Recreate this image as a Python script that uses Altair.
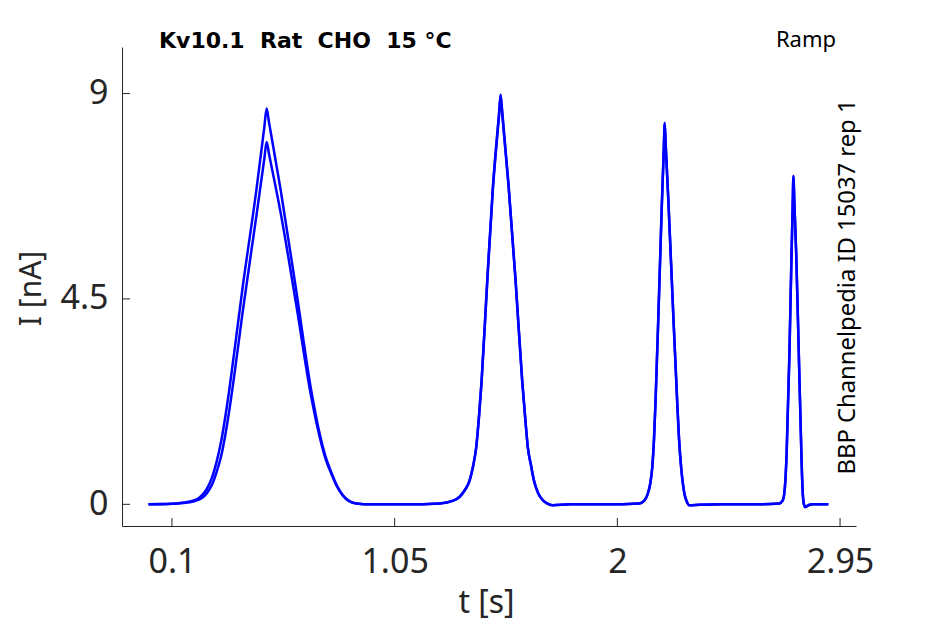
import altair as alt
import pandas as pd

# time points [s]
t_s = [0.00, 0.10, 0.15, 0.19, 0.215, 0.24, 0.26, 0.275, 0.29, 0.311,
       0.343, 0.37, 0.40, 0.46, 0.494, 0.504, 0.514, 0.564, 0.63, 0.694,
       0.73, 0.755, 0.78, 0.805, 0.829, 0.855, 0.886, 0.95,
       1.10, 1.242, 1.30, 1.327, 1.35, 1.37, 1.385, 1.398, 1.41, 1.421,
       1.445, 1.469, 1.495, 1.502, 1.509, 1.536, 1.566, 1.594, 1.607, 1.618,
       1.632, 1.644, 1.662, 1.682, 1.70, 1.723, 1.80,
       1.95, 2.094, 2.115, 2.13, 2.14, 2.149, 2.156, 2.163, 2.177, 2.19,
       2.198, 2.202, 2.206, 2.218, 2.236, 2.255, 2.263, 2.272, 2.279, 2.286,
       2.296, 2.307, 2.35, 2.45,
       2.60, 2.691, 2.705, 2.712, 2.717, 2.722, 2.734, 2.743, 2.748, 2.751,
       2.755, 2.763, 2.774, 2.785, 2.788, 2.791, 2.796, 2.802, 2.815, 2.833,
       2.90]

# current traces [nA]
i_trace1 = [0.00, 0.01, 0.04, 0.08, 0.14, 0.27, 0.45, 0.65, 0.92, 1.41,
            2.45, 3.50, 4.69, 6.88, 8.26, 8.67, 8.37, 6.88, 4.69, 2.50,
            1.55, 1.05, 0.70, 0.40, 0.20, 0.08, 0.02, 0.00,
            0.00, 0.02, 0.08, 0.17, 0.32, 0.53, 0.85, 1.26, 1.95, 2.72,
            4.91, 6.95, 8.55, 8.98, 8.60, 7.00, 4.91, 2.72, 1.90, 1.26,
            0.85, 0.53, 0.25, 0.09, 0.02, -0.02, 0.00,
            0.00, 0.02, 0.08, 0.24, 0.45, 0.82, 1.40, 2.28, 4.47, 6.62,
            7.78, 8.36, 7.92, 6.62, 4.47, 2.28, 1.45, 0.82, 0.48, 0.24,
            0.06, -0.02, -0.01, 0.00,
            0.00, 0.02, 0.08, 0.24, 0.55, 1.12, 3.31, 5.50, 6.56, 7.20,
            6.63, 5.50, 3.31, 1.12, 0.60, 0.24, 0.00, -0.06, -0.02, 0.00,
            0.00]

i_trace2 = [0.00, 0.01, 0.03, 0.06, 0.10, 0.19, 0.33, 0.48, 0.70, 1.08,
            2.00, 2.98, 4.15, 6.31, 7.57, 7.94, 7.68, 6.38, 4.38, 2.36,
            1.48, 1.00, 0.67, 0.38, 0.19, 0.07, 0.02, 0.00,
            0.00, 0.02, 0.08, 0.16, 0.31, 0.52, 0.84, 1.24, 1.92, 2.69,
            4.87, 6.90, 8.50, 8.93, 8.55, 6.96, 4.88, 2.70, 1.88, 1.25,
            0.84, 0.52, 0.24, 0.09, 0.02, -0.02, 0.00,
            0.00, 0.02, 0.08, 0.23, 0.44, 0.81, 1.38, 2.26, 4.44, 6.58,
            7.74, 8.32, 7.88, 6.59, 4.45, 2.27, 1.44, 0.81, 0.47, 0.23,
            0.06, -0.02, -0.01, 0.00,
            0.00, 0.02, 0.08, 0.23, 0.54, 1.10, 3.28, 5.46, 6.52, 7.16,
            6.59, 5.47, 3.29, 1.11, 0.59, 0.23, 0.00, -0.06, -0.02, 0.00,
            0.00]

x_ticks = [0.1, 1.05, 2, 2.95]
y_ticks = [0, 4.5, 9]

title_text = "Kv10.1\u00a0 Rat\u00a0 CHO\u00a0 15 °C"
protocol_text = "Ramp"
source_text = "BBP Channelpedia ID 15037 rep 1"

assert len(t_s) == len(i_trace1) == len(i_trace2)

rows = []
for name, vals in (("1", i_trace1), ("2", i_trace2)):
    for t, v in zip(t_s, vals):
        rows.append({"t": t, "I": v, "trace": name})
df = pd.DataFrame(rows)

W, H = 734, 479
INK = "#262626"
FONT = "Noto Sans"
LABEL_EXPR = "format(datum.value, '~g')"

xscale = alt.Scale(domain=[-0.113, 3.018], nice=False, zero=False)
yscale = alt.Scale(domain=[-0.475, 10.02], nice=False, zero=False)

xaxis = alt.Axis(values=x_ticks, labelExpr=LABEL_EXPR, title="t [s]",
                 grid=False, ticks=False, tickSize=0, domainColor=INK,
                 domainWidth=1, labelFont=FONT, labelFontSize=34,
                 labelColor=INK, labelBaseline="alphabetic", labelPadding=46,
                 labelFlush=False, labelOverlap=False,
                 titleFont=FONT, titleFontSize=32, titleColor=INK,
                 titleFontWeight="normal", titleX=364, titleY=86.5,
                 titleBaseline="alphabetic", titleAlign="center")
yaxis = alt.Axis(values=y_ticks, labelExpr=LABEL_EXPR, title="I [nA]",
                 grid=False, ticks=False, tickSize=0, domainColor=INK,
                 domainWidth=1, labelFont=FONT, labelFontSize=34,
                 labelColor=INK, labelPadding=14, labelFlush=False,
                 labelOverlap=False,
                 titleFont=FONT, titleFontSize=30, titleColor=INK,
                 titleFontWeight="normal", titleAngle=270, titleX=-82,
                 titleY=241, titleBaseline="alphabetic", titleAlign="center")

lines = alt.Chart(df).mark_line(color="#0000FF", strokeWidth=2.5,
                                interpolate="monotone").encode(
    x=alt.X("t:Q", scale=xscale, axis=xaxis),
    y=alt.Y("I:Q", scale=yscale, axis=yaxis),
    detail="trace:N",
)

ytick_marks = alt.Chart(pd.DataFrame({"v": y_ticks})).mark_rule(
    color=INK, strokeWidth=1).encode(
    y=alt.Y("v:Q", scale=yscale, axis=yaxis),
    x=alt.value(0), x2=alt.value(8),
)
xtick_marks = alt.Chart(pd.DataFrame({"v": x_ticks})).mark_rule(
    color=INK, strokeWidth=1).encode(
    x=alt.X("v:Q", scale=xscale, axis=xaxis),
    y=alt.value(H), y2=alt.value(H - 8),
)

title_mark = alt.Chart(pd.DataFrame({"s": [title_text]})).mark_text(
    font="DejaVu Sans", fontSize=22, fontWeight="bold", color="black",
    align="left", baseline="alphabetic").encode(
    text="s:N", x=alt.value(37), y=alt.value(0.6))

protocol_mark = alt.Chart(pd.DataFrame({"s": [protocol_text]})).mark_text(
    font=FONT, fontSize=22, color="black",
    align="center", baseline="alphabetic").encode(
    text="s:N", x=alt.value(684), y=alt.value(0))

source_mark = alt.Chart(pd.DataFrame({"s": [source_text]})).mark_text(
    font=FONT, fontSize=23.8, color="black", angle=270,
    align="center", baseline="alphabetic").encode(
    text="s:N", x=alt.value(732.7), y=alt.value(240))

chart = alt.layer(
    lines, ytick_marks, xtick_marks, title_mark, protocol_mark, source_mark
).properties(
    width=W, height=H,
    autosize=alt.AutoSizeParams(type="none"),
    padding={"left": 114, "top": 39, "right": 50, "bottom": 96},
    background="white",
).configure_view(stroke=None)

chart.save("out.html", embed_options={"renderer": "svg", "actions": False})
